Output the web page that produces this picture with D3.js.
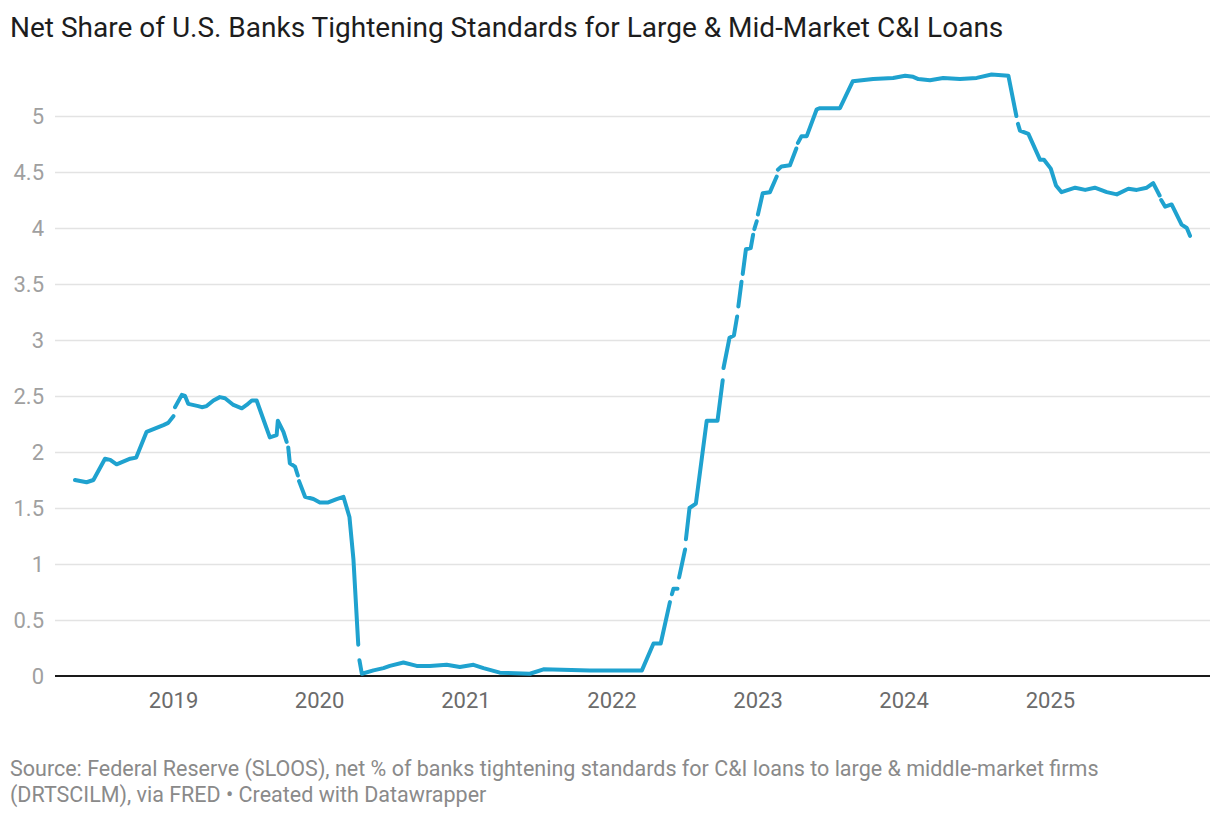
<!DOCTYPE html>
<html>
<head>
<meta charset="utf-8">
<script src="https://cdn.jsdelivr.net/npm/d3@7"></script>
<style>
  body { margin: 0; background: #fff; }
  svg { font-family: Roboto, "Noto Sans", sans-serif; display: block; }
</style>
</head>
<body>
<div id="chart"></div>
<script>
// series (null = break in the line)
const DATES = [
  '2018-05-01','2018-05-30','2018-06-16','2018-07-15','2018-07-28','2018-08-13','2018-09-16','2018-10-01',
  '2018-10-27','2018-12-08','2018-12-20','2019-01-02','2019-01-03','2019-01-06','2019-01-23','2019-01-31',
  '2019-02-08','2019-03-05','2019-03-14','2019-03-26','2019-04-12','2019-04-28','2019-05-11','2019-06-01',
  '2019-06-22','2019-07-04','2019-07-17','2019-07-29','2019-08-15','2019-08-31','2019-09-17','2019-09-20',
  '2019-10-04','2019-10-12','2019-10-13','2019-10-16','2019-10-20','2019-11-02','2019-11-09','2019-11-10',
  '2019-11-12','2019-11-27','2019-12-18','2020-01-03','2020-01-24','2020-02-14','2020-03-02','2020-03-17',
  '2020-03-27','2020-04-08','2020-04-09','2020-04-11','2020-04-17','2020-05-16','2020-06-10','2020-06-26',
  '2020-07-30','2020-09-01','2020-10-04','2020-11-15','2020-12-18','2021-01-21','2021-02-15','2021-03-28',
  '2021-06-11','2021-07-15','2021-11-08','2022-03-18','2022-04-16','2022-05-04','2022-05-27','2022-05-29',
  '2022-06-01','2022-06-05','2022-06-15','2022-06-17','2022-06-19','2022-07-04','2022-07-05','2022-07-06',
  '2022-07-15','2022-07-31','2022-08-27','2022-09-23','2022-10-06','2022-10-07','2022-10-08','2022-10-23',
  '2022-11-03','2022-11-11','2022-11-12','2022-11-14','2022-11-22','2022-11-23','2022-11-25','2022-12-03',
  '2022-12-15','2022-12-21','2022-12-22','2022-12-24','2022-12-30','2022-12-31','2023-01-02','2023-01-14',
  '2023-02-01','2023-02-18','2023-02-19','2023-02-21','2023-03-02','2023-03-23','2023-04-08','2023-04-09',
  '2023-04-12','2023-04-21','2023-05-04','2023-05-29','2023-06-06','2023-07-26','2023-08-27','2023-10-17',
  '2023-12-06','2024-01-05','2024-01-25','2024-02-07','2024-03-07','2024-04-09','2024-05-21','2024-07-02',
  '2024-08-08','2024-09-19','2024-10-09','2024-10-10','2024-10-13','2024-10-18','2024-11-08','2024-12-07',
  '2024-12-17','2025-01-03','2025-01-16','2025-01-30','2025-03-05','2025-03-30','2025-04-23','2025-05-23',
  '2025-06-17','2025-07-16','2025-08-06','2025-08-31','2025-09-16','2025-10-02','2025-10-03','2025-10-06',
  '2025-10-16','2025-11-01','2025-11-26','2025-12-09','2025-12-17'
];
const VALUES = [
  1.75, 1.73, 1.75, 1.94, 1.93, 1.89, 1.94, 1.95,
  2.18, 2.24, 2.26, 2.32, null, 2.40, 2.51, 2.50,
  2.43, 2.41, 2.40, 2.41, 2.46, 2.49, 2.48, 2.42,
  2.39, 2.42, 2.46, 2.46, 2.29, 2.13, 2.15, 2.28,
  2.18, 2.09, null, 2.04, 1.90, 1.87, 1.79, null,
  1.74, 1.60, 1.58, 1.55, 1.55, 1.58, 1.60, 1.42,
  1.04, 0.28, null, 0.14, 0.02, 0.05, 0.07, 0.09,
  0.12, 0.09, 0.09, 0.10, 0.08, 0.10, 0.07, 0.03,
  0.02, 0.06, 0.05, 0.05, 0.29, 0.29, 0.66, null,
  0.73, 0.78, 0.78, null, 0.88, 1.13, null, 1.22,
  1.50, 1.54, 2.28, 2.28, 2.64, null, 2.75, 3.02,
  3.04, 3.21, null, 3.30, 3.52, null, 3.59, 3.81,
  3.82, 3.94, null, 3.99, 4.06, null, 4.12, 4.31,
  4.32, 4.46, null, 4.52, 4.55, 4.56, 4.71, null,
  4.76, 4.82, 4.82, 5.06, 5.07, 5.07, 5.31, 5.33,
  5.34, 5.36, 5.35, 5.33, 5.32, 5.34, 5.33, 5.34,
  5.37, 5.36, 5.00, null, 4.93, 4.87, 4.84, 4.61,
  4.61, 4.53, 4.38, 4.32, 4.36, 4.34, 4.36, 4.32,
  4.30, 4.35, 4.34, 4.36, 4.40, 4.29, null, 4.25,
  4.19, 4.21, 4.03, 4.00, 3.93
];
const Y_TICKS = [0, 0.5, 1, 1.5, 2, 2.5, 3, 3.5, 4, 4.5, 5];

const TITLE = 'Net Share of U.S. Banks Tightening Standards for Large & Mid-Market C&I Loans';
const NOTE_1 = 'Source: Federal Reserve (SLOOS), net % of banks tightening standards for C&I loans to large & middle-market firms';
const NOTE_2 = '(DRTSCILM), via FRED \u2022 Created with Datawrapper';

const W = 1220, H = 818;
const plot = {left: 55, right: 1210, top: 116, bottom: 676};

const parse = d3.timeParse('%Y-%m-%d');
const data = DATES.map((d, i) => ({date: parse(d), value: VALUES[i]}));

const svg = d3.select('#chart').append('svg')
  .attr('width', W)
  .attr('height', H);

// title
svg.append('text')
  .attr('x', 10).attr('y', 37)
  .style('font-size', '28px')
  .style('fill', '#1d1d1d')
  .text(TITLE);

var x = d3.scaleTime()
  .domain(d3.extent(data, d => d.date))
  .range([plot.left + 20, plot.right - 20]);

var y = d3.scaleLinear()
  .domain([0, 5])
  .range([plot.bottom, plot.top]);

// gridlines + y labels
var yAxis = svg.append('g')
  .attr('transform', 'translate(' + plot.left + ',0)')
  .call(d3.axisLeft(y).tickValues(Y_TICKS).tickSize(-(plot.right - plot.left)).tickFormat(d3.format('~g')));
yAxis.select('.domain').remove();
yAxis.selectAll('.tick line')
  .attr('stroke', '#e3e3e3')
  .attr('stroke-width', 1.6)
  .attr('opacity', d => d === 0 ? 0 : 1);
yAxis.selectAll('.tick text')
  .attr('x', -11)
  .style('font-size', '22px')
  .style('fill', '#a0a0a0')
  .style('font-family', 'Roboto, sans-serif');

// x labels
var xAxis = svg.append('g')
  .attr('transform', 'translate(0,' + plot.bottom + ')')
  .call(d3.axisBottom(x).ticks(d3.timeYear.every(1)).tickSize(0).tickFormat(d3.timeFormat('%Y')));
xAxis.select('.domain').remove();
xAxis.selectAll('.tick text')
  .attr('y', 16)
  .style('font-size', '22px')
  .style('fill', '#6b6b6b')
  .style('font-family', 'Roboto, sans-serif');

// baseline
svg.append('line')
  .attr('x1', plot.left).attr('x2', plot.right)
  .attr('y1', y(0)).attr('y2', y(0))
  .attr('stroke', '#1a1a1a')
  .attr('stroke-width', 2.2);

// the line
var line = d3.line()
  .defined(d => d.value !== null)
  .x(d => x(d.date))
  .y(d => y(d.value));

svg.append('path')
  .datum(data)
  .attr('d', line)
  .attr('fill', 'none')
  .attr('stroke', '#1fa2cf')
  .attr('stroke-width', 4)
  .attr('stroke-linejoin', 'round')
  .attr('stroke-linecap', 'round');

// footer
svg.append('text')
  .attr('x', 10).attr('y', 776)
  .style('font-size', '21.5px')
  .style('fill', '#8a8a8a')
  .text(NOTE_1);
svg.append('text')
  .attr('x', 10).attr('y', 802)
  .style('font-size', '21.5px')
  .style('fill', '#8a8a8a')
  .text(NOTE_2);
</script>
</body>
</html>
